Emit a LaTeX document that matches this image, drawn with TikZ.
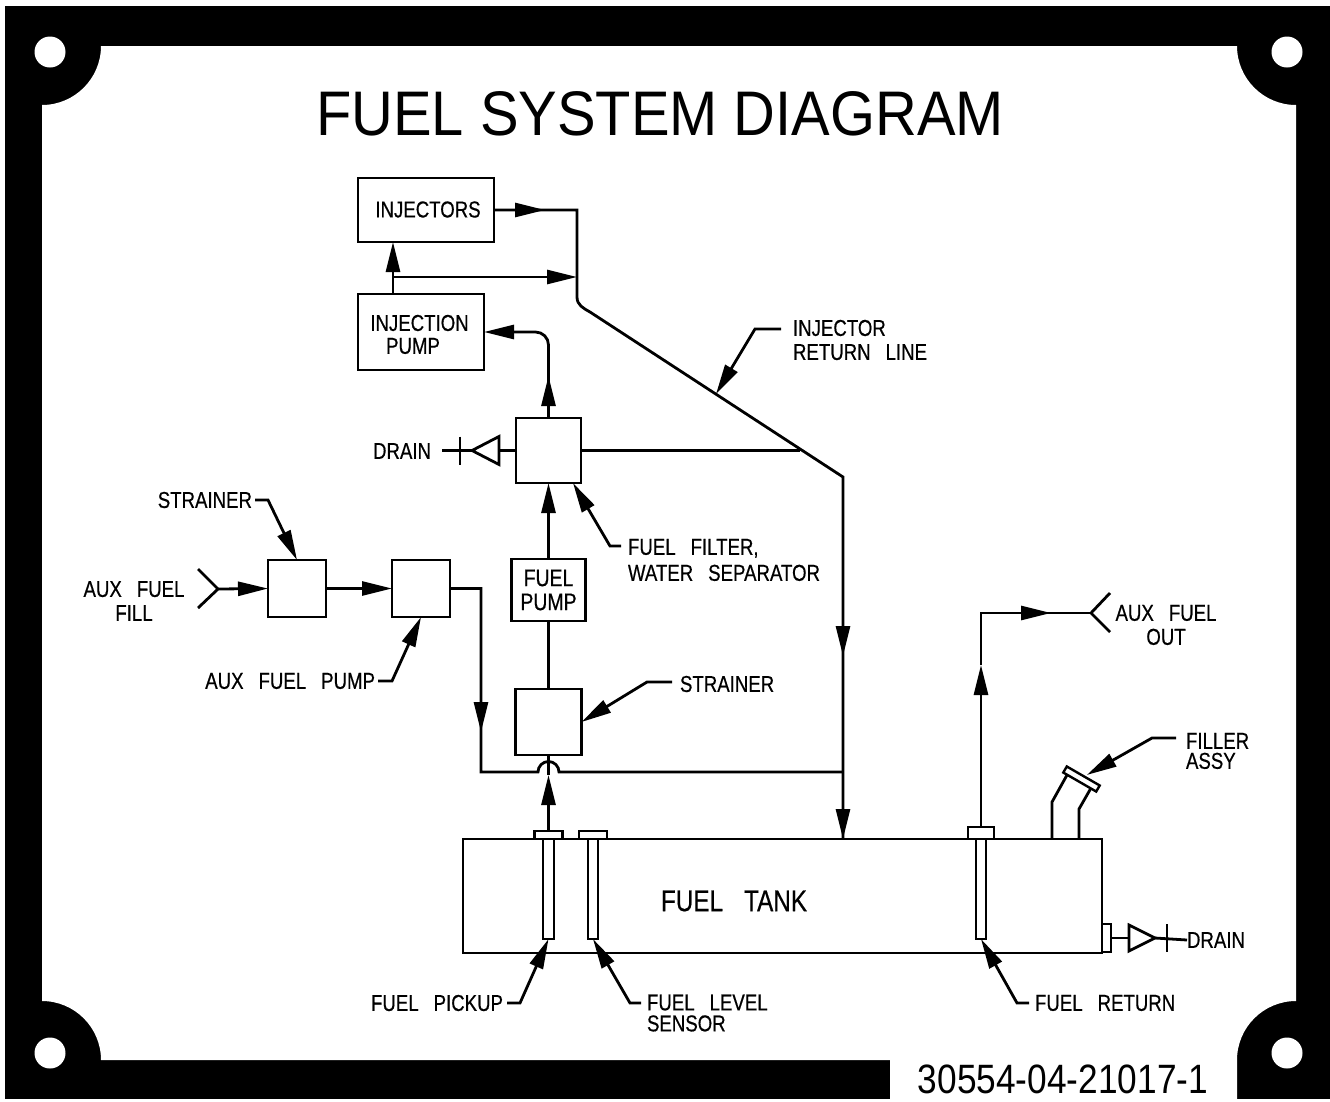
\documentclass[tikz,border=0pt]{standalone}
\usepackage{fontspec}
\setmainfont[FakeStretch=0.81, FakeBold=0.5]{Liberation Sans}
\newfontfamily\ttlfont[FakeStretch=0.918]{Liberation Sans}
\newfontfamily\numfont[FakeStretch=0.86]{Liberation Sans}
\newcommand\wgap{\hspace{15pt}}
\usepackage{tikz}
\usetikzlibrary{arrows.meta,positioning,decorations.markings}

\begin{document}
\begin{tikzpicture}[x=1pt, y=-1pt,
      >={Triangle[length=30pt, width=14pt]},
      pipe/.style={line width=2.8pt, line join=miter},
      blk/.style={draw, line width=2.8pt, inner sep=0pt, outer sep=0pt, align=center,
                  font=\fontsize{23}{24}\selectfont},
      txt/.style={inner sep=0pt, outer sep=0pt, font=\fontsize{23}{24}\selectfont},
      tube/.style={draw, line width=2.4pt, inner sep=0pt, outer sep=0pt,
                   minimum width=10.5pt, minimum height=100pt},
      flange/.style={draw, line width=2.4pt, inner sep=0pt, outer sep=0pt, minimum height=8pt},
      flow/.style={postaction={decorate, decoration={markings,
                   mark=at position #1 with {\arrow{>}}}}}]
    \useasboundingbox (0,0) rectangle (1330,1101);
    \fill[black] (5,6) rectangle (1330,1099);
    \fill[white] (101,46) -- (1237,46) arc[start angle=180, end angle=90, radius=59]
      -- (1296,1001) arc[start angle=270, end angle=180, radius=59]
      -- (1237,1101) -- (890,1101) -- (890,1060) -- (101,1060)
      arc[start angle=360, end angle=270, radius=59]
      -- (42,105) arc[start angle=90, end angle=0, radius=59] -- cycle;
    \foreach \hx/\hy in {50/52, 1287/52, 50/1053, 1287/1053}
      \fill[white] (\hx,\hy) circle[radius=15.5];

    \node[font=\ttlfont\fontsize{63}{63}\selectfont, inner sep=0pt] (title) at (660,114) {FUEL SYSTEM DIAGRAM};
    \node[font=\numfont\fontsize{41}{41}\selectfont, inner sep=0pt] (partno) at (1063,1079) {30554-04-21017-1};

    \node[blk, minimum width=65pt, minimum height=65pt] (filter) at (548.5,450.5) {};
    \node[blk, below=76pt of filter, minimum width=74pt, minimum height=62pt,
          font=\fontsize{24}{24}\selectfont] (fpump) {FUEL\\PUMP};
    \node[blk, below=68pt of fpump, minimum width=66pt, minimum height=66pt] (mstrn) {};
    \node[blk, minimum width=126pt, minimum height=76pt] (ipump) at (421,332) {};
    \node[blk, above=52pt of ipump.north west, anchor=south west, minimum width=136pt,
          minimum height=64pt] (inj) {};
    \node[blk, minimum width=58pt, minimum height=57pt] (astrn) at (297,588.5) {};
    \node[blk, right=66pt of astrn, minimum width=58pt, minimum height=57pt] (apump) {};
    \node[blk, minimum width=639pt, minimum height=114pt] (tank) at (782.5,896) {};
    \node[txt, font=\fontsize{30}{30}\selectfont] (tanklbl) at (734,901) {FUEL\hspace{21pt}TANK};

    \node[flange, minimum width=28pt] (flngA) at (548.5,835) {};
    \node[flange, minimum width=28pt] (flngB) at (593,835) {};
    \node[flange, minimum width=26pt, minimum height=12pt] (flngC) at (981,833) {};
    \node[tube, below=0pt of flngA] (tubeA) {};
    \node[tube, below=0pt of flngB] (tubeB) {};
    \node[tube] (tubeC) at (981,889) {};
    \node[flange, minimum width=9pt, minimum height=28pt] (dbox) at (1106.5,938) {};
    \node[draw, fill=white, line width=2.4pt, rotate=-30, inner sep=0pt, minimum width=38pt,
          minimum height=7pt] (fcap) at (1081.5,779) {};

    \node[txt] (injlbl) at (428,209.5) {INJECTORS};
    \node[txt] (ipumpA) at (419.5,323) {INJECTION};
    \node[txt] (ipumpB) at (413,346) {PUMP};
    \node[txt, anchor=east] (drainL) at (431,451) {DRAIN};
    \node[txt, anchor=west] (drainR) at (1187,940) {DRAIN};
    \node[txt, anchor=east] (strnA) at (252,500) {STRAINER};
    \node[txt, anchor=west] (strnB) at (680,684) {STRAINER};
    \node[txt, align=center] (auxfill) at (134,601) {AUX\wgap FUEL\\FILL};
    \node[txt, align=center] (auxout) at (1166,625) {AUX\wgap FUEL\\OUT};
    \node[txt, anchor=east] (auxpmp) at (375,681) {AUX\wgap FUEL\wgap PUMP};
    \node[txt, anchor=west, align=left] (injret) at (793,340) {INJECTOR\\RETURN\wgap LINE};
    \node[txt, anchor=west, align=left] (fltr) at (628,560) {FUEL\wgap FILTER,\\[2pt]WATER\wgap SEPARATOR};
    \node[txt, anchor=west, align=left] (fillr) at (1186,751) {FILLER\\[-4pt]ASSY};
    \node[txt, anchor=east] (pickup) at (503,1003) {FUEL\wgap PICKUP};
    \node[txt, anchor=north west, align=left] (level) at (647,994.5) {FUEL\wgap LEVEL\\[-3pt]SENSOR};
    \node[txt, anchor=west] (fret) at (1035,1003) {FUEL\wgap RETURN};

    \coordinate (fillv) at (218,589);
    \coordinate (outv) at (1091,613);
    \coordinate (knee) at (843,477);
    \coordinate (jA) at (393,277);
    \coordinate (jB) at (577,277);
    \coordinate (jC) at (800,450.5);
    \coordinate (jD) at (843,772);
    \coordinate (vlvL) at (499,450.5);
    \coordinate (vlvR) at (1129,938);
    \coordinate (tickL) at (460,450.5);
    \coordinate (tickR) at (1167,938);

    \draw[pipe, flow=51pt] (inj.east) -- (jB |- inj.east) -- (jB) -- (577,297)
      .. controls (577,305) and (583,308) .. (590,312) -- (knee) -- (843,839);
    \draw[pipe, ->] (knee) -- (843,656);
    \draw[pipe, ->] (843,656) -- (843,839);
    \draw[pipe, ->] (ipump.north -| jA) -- (jA |- inj.south);
    \draw[pipe, ->] (jA) -- (jB);
    \draw[pipe] (filter.east) -- (jC);
    \draw[pipe, rounded corners=13pt, flow=42pt, ->] (filter.north) -- (548.5,332) -- (ipump.east |- 548.5,332);
    \draw[pipe, ->] (fpump.north) -- (filter.south);
    \draw[pipe] (mstrn.north) -- (fpump.south);
    \draw[pipe, ->] (flngA.north) -- (548.5,775);
    \draw[pipe] (548.5,775) -- (mstrn.south);
    \draw[pipe] (apump.east) -- (481,588.5) -- (481,772) -- (538,772)
      arc[start angle=180, end angle=360, radius=10.5] -- (jD);
    \draw[pipe, ->] (481,588.5) -- (481,732);
    \draw[pipe, ->] (fillv) -- (astrn.west);
    \draw[pipe, ->] (astrn.east) -- (apump.west);
    \draw[pipe] ([shift={(-20,-20)}]fillv) -- (fillv) -- ([shift={(-20,19)}]fillv);
    \draw[pipe, ->] (flngC.north) -- (981,665);
    \draw[pipe, flow=122pt] (981,665) -- (981,613) -- (outv);
    \draw[pipe] ([shift={(19,-20)}]outv) -- (outv) -- ([shift={(19,19)}]outv);

    \draw[pipe] (1052,839) -- (1052,802) -- (1067,775);
    \draw[pipe] (1079,839) -- (1079,809) -- (1091,788);

    \draw[pipe] (filter.west) -- (vlvL);
    \draw[pipe] (vlvL) ++(-27,0) -- (442,450.5);
    \draw[pipe] (vlvL) ++(0,-14) -- ++(-27,14) -- ++(27,14) -- cycle;
    \draw[pipe] (tickL) ++(0,-14) -- ++(0,28);
    \draw[pipe] (dbox.east) -- (vlvR);
    \draw[pipe] (vlvR) ++(26,0) -- (drainR.west);
    \draw[pipe] (vlvR) ++(0,-13) -- ++(26,13) -- ++(-26,13) -- cycle;
    \draw[pipe] (tickR) ++(0,-14) -- ++(0,28);

    \draw[pipe, ->] (255,500) -- (268,500) -- (astrn.north);
    \draw[pipe, ->] (378,681) -- (392,681) -- (apump.south);
    \draw[pipe, ->] (781,329) -- (755,329) -- (716,394);
    \draw[pipe, ->] (621,546) -- (610,546) -- ([xshift=-8pt]filter.south east);
    \draw[pipe, ->] (672,682) -- (647,682) -- (mstrn.east);
    \draw[pipe, ->] (1176,738) -- (1152,738) -- ([xshift=3pt]fcap.north);
    \draw[pipe, ->] (507,1003) -- (520,1003) -- (tubeA.south);
    \draw[pipe, ->] (641,1003) -- (630,1003) -- (tubeB.south);
    \draw[pipe, ->] (1029,1003) -- (1017,1003) -- (tubeC.south);
  \end{tikzpicture}
\end{document}
